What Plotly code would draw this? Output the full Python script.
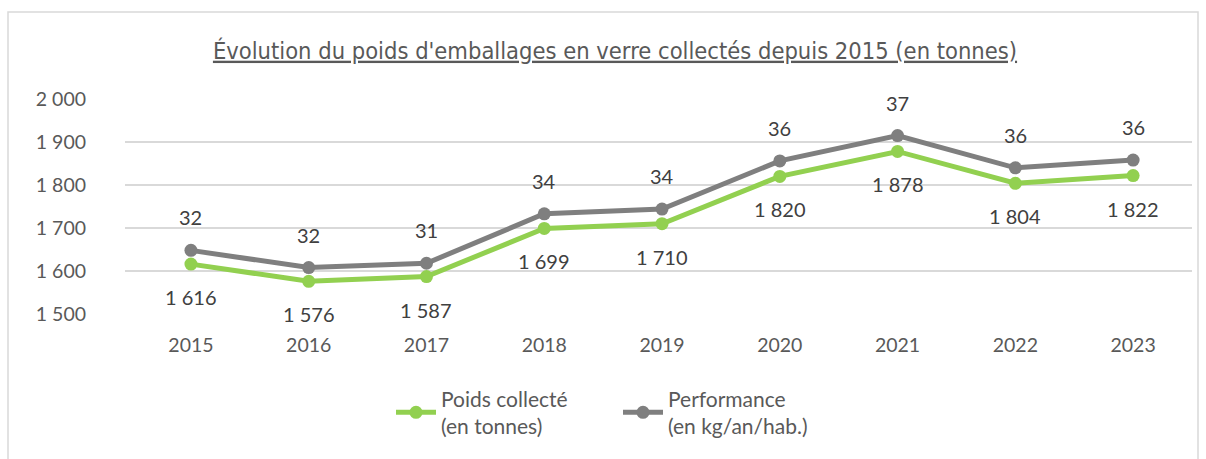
import plotly.graph_objects as go

years = ["2015", "2016", "2017", "2018", "2019", "2020", "2021", "2022", "2023"]
poids = [1616, 1576, 1587, 1699, 1710, 1820, 1878, 1804, 1822]
performance = [32, 32, 31, 34, 34, 36, 37, 36, 36]
y_ticks = [1500, 1600, 1700, 1800, 1900, 2000]

GREEN = "#92D050"
GREY = "#7F7F7F"
TXT = "#595959"
LBL = "#404040"
FONT = "Lato"

def fmt(v):
    return f"{v:,}".replace(",", " ")

fig = go.Figure()
fig.add_trace(go.Scatter(
    x=years, y=poids, name="Poids collecté<br>(en tonnes)",
    mode="lines+markers", stackgroup="s", fill="none",
    line=dict(color=GREEN, width=5), marker=dict(color=GREEN, size=13),
    cliponaxis=False,
))
fig.add_trace(go.Scatter(
    x=years, y=performance, name="Performance<br>(en kg/an/hab.)",
    mode="lines+markers", stackgroup="s", fill="none",
    line=dict(color=GREY, width=5), marker=dict(color=GREY, size=13),
    cliponaxis=False,
))

annotations = []
for i, yr in enumerate(years):
    annotations.append(dict(x=i, y=poids[i], xref="x", yref="y", text=fmt(poids[i]),
                            showarrow=False, yshift=-33,
                            font=dict(family=FONT, size=20, color=LBL)))
    annotations.append(dict(x=i, y=poids[i] + performance[i], xref="x", yref="y",
                            text=str(performance[i]), showarrow=False, yshift=33,
                            font=dict(family=FONT, size=20, color=LBL)))

fig.update_layout(
    width=1206, height=459,
    margin=dict(l=125, r=14, t=99, b=145),
    paper_bgcolor="white", plot_bgcolor="white",
    separators=", ",
    title=dict(text="<u>Évolution du poids d'emballages en verre collectés depuis 2015 (en tonnes)</u>",
               x=615 / 1206, xanchor="center", xref="container", y=0.89, yanchor="middle",
               font=dict(family="DejaVu Sans Condensed", size=23.5, color=TXT)),
    xaxis=dict(type="category", range=[-0.56, 8.5], showgrid=False, showline=False,
               ticks="", tickfont=dict(family=FONT, size=19.5, color=TXT), ticklabelstandoff=17),
    yaxis=dict(range=[1500, 2000], tickvals=y_ticks, tickformat=",d", showgrid=True,
               gridcolor="#D9D9D9", gridwidth=1.5, zeroline=False, showline=False,
               tickfont=dict(family=FONT, size=19.5, color=TXT), ticklabelstandoff=38),
    legend=dict(orientation="h", x=(618 - 125) / 1067, xanchor="center", y=-0.30, yanchor="top",
                font=dict(family=FONT, size=21, color=TXT), itemwidth=40,
                entrywidth=172, entrywidthmode="pixels", traceorder="normal"),
    annotations=annotations,
    shapes=[dict(type="rect", xref="paper", yref="paper",
                 x0=(8 - 125) / 1067, x1=(1198 - 125) / 1067,
                 y0=(314 - 470) / 215, y1=(314 - 12) / 215,
                 line=dict(color="#D9D9D9", width=1.5), layer="below")],
)

fig.write_html("out.html", config={"displayModeBar": False},
               post_script="document.body.style.margin='0';")
